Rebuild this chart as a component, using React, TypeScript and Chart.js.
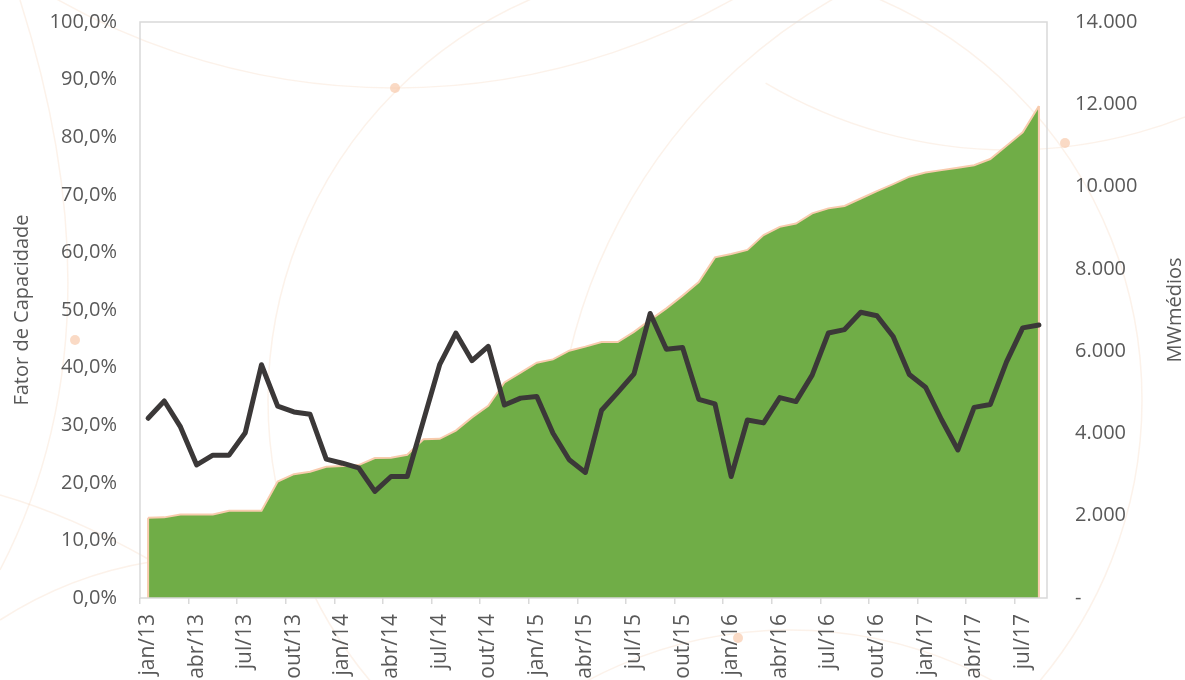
import React, { useEffect, useRef } from "react";
import { Chart, registerables } from "chart.js";

Chart.register(...registerables);

const W = 1185;
const H = 680;

const categories: string[] = [
  "jan/13", "fev/13", "mar/13", "abr/13", "mai/13", "jun/13", "jul/13", "ago/13", "set/13", "out/13", "nov/13", "dez/13",
  "jan/14", "fev/14", "mar/14", "abr/14", "mai/14", "jun/14", "jul/14", "ago/14", "set/14", "out/14", "nov/14", "dez/14",
  "jan/15", "fev/15", "mar/15", "abr/15", "mai/15", "jun/15", "jul/15", "ago/15", "set/15", "out/15", "nov/15", "dez/15",
  "jan/16", "fev/16", "mar/16", "abr/16", "mai/16", "jun/16", "jul/16", "ago/16", "set/16", "out/16", "nov/16", "dez/16",
  "jan/17", "fev/17", "mar/17", "abr/17", "mai/17", "jun/17", "jul/17", "ago/17",
];

// Fator de Capacidade (%) - left axis
const fatorCapacidade: number[] = [
  31.2, 34.2, 29.7, 23.1, 24.8, 24.8, 28.7, 40.5, 33.3, 32.3, 31.9, 24.1,
  23.4, 22.6, 18.5, 21.1, 21.1, 30.8, 40.5, 46.0, 41.2, 43.7, 33.5, 34.7,
  35.0, 28.6, 24.0, 21.8, 32.6, 35.7, 38.9, 49.4, 43.2, 43.5, 34.5, 33.7,
  21.1, 30.9, 30.4, 34.8, 34.1, 38.7, 46.0, 46.6, 49.6, 49.0, 45.4, 38.8,
  36.6, 30.9, 25.7, 33.1, 33.6, 41.0, 46.9, 47.4,
];

// MWmédios - right axis
const mwMedios: number[] = [
  1950, 1960, 2030, 2030, 2030, 2120, 2120, 2120, 2830, 3010, 3070, 3190,
  3210, 3230, 3400, 3410, 3480, 3860, 3870, 4070, 4390, 4670, 5240, 5480,
  5720, 5800, 6010, 6110, 6220, 6220, 6470, 6760, 7040, 7350, 7680, 8280,
  8360, 8460, 8820, 9020, 9100, 9350, 9470, 9530, 9710, 9890, 10060, 10240,
  10340, 10400, 10460, 10520, 10670, 10990, 11320, 11960,
];

const leftTitle = "Fator de Capacidade";
const rightTitle = "MWmédios";

const FONT = "'Open Sans', 'DejaVu Sans', sans-serif";
const TEXT = "#595959";
const AXIS = "#D9D9D9";

function fmtThousands(v: number): string {
  if (v === 0) return "-";
  return String(Math.round(v)).replace(/\B(?=(\d{3})+(?!\d))/g, ".");
}

const decorPlugin = {
  id: "decor",
  beforeDraw(chart: any) {
    const ctx = chart.ctx as CanvasRenderingContext2D;
    ctx.save();
    ctx.strokeStyle = "rgba(240, 196, 160, 0.22)";
    ctx.lineWidth = 1.5;
    ctx.beginPath();
    ctx.arc(705, 400, 437, 0, Math.PI * 2);
    ctx.stroke();
    ctx.beginPath();
    ctx.arc(1010, -330, 480, 0.33 * Math.PI, 0.67 * Math.PI);
    ctx.stroke();
    ctx.beginPath();
    ctx.arc(395, -600, 688, 0.3 * Math.PI, 0.7 * Math.PI);
    ctx.stroke();
    ctx.beginPath();
    ctx.arc(1110, 480, 555, 0.94 * Math.PI, 1.37 * Math.PI);
    ctx.stroke();
    ctx.beginPath();
    ctx.moveTo(20, 0);
    ctx.quadraticCurveTo(125, 330, 0, 570);
    ctx.stroke();
    ctx.beginPath();
    ctx.moveTo(0, 495);
    ctx.quadraticCurveTo(70, 515, 150, 560);
    ctx.stroke();
    ctx.beginPath();
    ctx.moveTo(0, 620);
    ctx.quadraticCurveTo(70, 575, 150, 562);
    ctx.stroke();
    ctx.beginPath();
    ctx.arc(790, 1060, 430, 1.25 * Math.PI, 1.75 * Math.PI);
    ctx.stroke();
    ctx.fillStyle = "rgba(248, 203, 173, 0.7)";
    const dots = [
      [395, 88],
      [75, 340],
      [1065, 143],
      [738, 638],
    ];
    for (const [x, y] of dots) {
      ctx.beginPath();
      ctx.arc(x, y, 5, 0, Math.PI * 2);
      ctx.fill();
    }
    ctx.restore();
  },
};

const framePlugin = {
  id: "frame",
  afterDatasetDraw(chart: any, args: any) {
    if (args.index !== 1) return;
    const meta = chart.getDatasetMeta(1);
    const pts = meta.data;
    if (!pts || !pts.length) return;
    const base = chart.scales.y1.getPixelForValue(0);
    const ctx = chart.ctx as CanvasRenderingContext2D;
    ctx.save();
    ctx.strokeStyle = "#F8CBAD";
    ctx.lineWidth = 2;
    ctx.beginPath();
    ctx.moveTo(pts[0].x, pts[0].y);
    ctx.lineTo(pts[0].x, base);
    ctx.moveTo(pts[pts.length - 1].x, pts[pts.length - 1].y);
    ctx.lineTo(pts[pts.length - 1].x, base);
    ctx.stroke();
    ctx.restore();
  },
  afterDatasetsDraw(chart: any) {
    const { left, right, top, bottom } = chart.chartArea;
    const ctx = chart.ctx as CanvasRenderingContext2D;
    ctx.save();
    ctx.strokeStyle = AXIS;
    ctx.lineWidth = 1.5;
    ctx.strokeRect(left, top, right - left, bottom - top);
    ctx.restore();
  },
  afterDraw(chart: any) {
    const s = chart.scales.y1;
    const { top, bottom } = chart.chartArea;
    const ctx = chart.ctx as CanvasRenderingContext2D;
    ctx.save();
    ctx.fillStyle = TEXT;
    ctx.font = `20px ${FONT}`;
    ctx.textAlign = "center";
    ctx.textBaseline = "middle";
    ctx.translate(s.right - 10, (top + bottom) / 2);
    ctx.rotate(-Math.PI / 2);
    ctx.fillText(rightTitle, 0, 0);
    ctx.restore();
  },
};

export default function App() {
  const ref = useRef<HTMLCanvasElement>(null);

  useEffect(() => {
    if (!ref.current) return;
    const chart = new Chart(ref.current, {
      type: "line",
      data: {
        labels: categories,
        datasets: [
          {
            label: leftTitle,
            data: fatorCapacidade,
            yAxisID: "y",
            borderColor: "#3B3838",
            backgroundColor: "#3B3838",
            borderWidth: 5,
            pointRadius: 0,
            tension: 0,
            fill: false,
            borderJoinStyle: "round",
            borderCapStyle: "round",
            order: 0,
          },
          {
            label: rightTitle,
            data: mwMedios,
            yAxisID: "y1",
            borderColor: "#F8CBAD",
            backgroundColor: "#70AD47",
            borderWidth: 2,
            pointRadius: 0,
            tension: 0,
            fill: "origin",
            order: 1,
          },
        ],
      },
      options: {
        animation: false,
        responsive: false,
        devicePixelRatio: 1,
        layout: { padding: { top: 22, left: 0, right: 0, bottom: 0 } },
        plugins: {
          legend: { display: false },
          tooltip: { enabled: false },
          title: { display: false },
        },
        scales: {
          x: {
            type: "category",
            offset: true,
            border: { display: false },
            grid: {
              offset: true,
              drawOnChartArea: false,
              drawTicks: true,
              tickLength: 6,
              lineWidth: 1.5,
              color: (c: any) => (c.index % 3 === 0 ? AXIS : "rgba(0,0,0,0)"),
            },
            ticks: {
              autoSkip: false,
              minRotation: 90,
              maxRotation: 90,
              padding: 10,
              color: TEXT,
              font: { family: FONT, size: 21 },
              callback: (_v: any, i: number) => (i % 3 === 0 ? categories[i] : ""),
            },
            afterFit: (s: any) => {
              s.height = H - 598;
              s.paddingLeft = 0;
              s.paddingRight = 0;
            },
          },
          y: {
            position: "left",
            min: 0,
            max: 100,
            border: { display: false },
            grid: { display: false, drawTicks: false },
            ticks: {
              stepSize: 10,
              padding: 23,
              color: TEXT,
              font: { family: FONT, size: 20 },
              callback: (v: any) => Number(v).toFixed(1).replace(".", ",") + "%",
            },
            title: {
              display: true,
              text: leftTitle,
              color: TEXT,
              font: { family: FONT, size: 20 },
              padding: { top: 10, bottom: 0 },
            },
            afterFit: (s: any) => {
              s.width = 140;
              s.paddingTop = 0;
              s.paddingBottom = 0;
            },
          },
          y1: {
            position: "right",
            min: 0,
            max: 14000,
            border: { display: false },
            grid: { display: false, drawTicks: false },
            ticks: {
              stepSize: 2000,
              padding: 28,
              color: TEXT,
              font: { family: FONT, size: 20 },
              callback: (v: any) => fmtThousands(Number(v)),
            },
            afterFit: (s: any) => {
              s.width = W - 1047;
              s.paddingTop = 0;
              s.paddingBottom = 0;
            },
          },
        },
      },
      plugins: [decorPlugin, framePlugin],
    });
    return () => chart.destroy();
  }, []);

  return (
    <div style={{ position: "absolute", left: 0, top: 0, width: W, height: H, background: "#fff", overflow: "hidden" }}>
      <canvas ref={ref} width={W} height={H} style={{ display: "block", width: W, height: H }} />
    </div>
  );
}
